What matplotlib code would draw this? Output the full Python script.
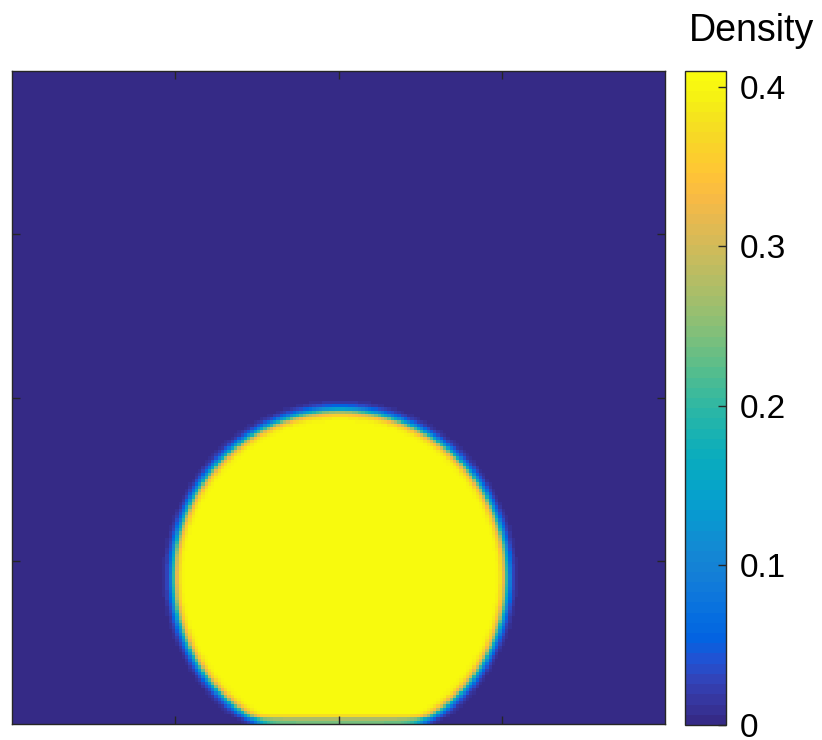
import numpy as np
import matplotlib

matplotlib.use('Agg')
import matplotlib.pyplot as plt
from matplotlib.colors import LinearSegmentedColormap

# grid and droplet parameters (grid units)
nx = 200
ny = 200
drop_center = [100.5, 45.0]
drop_radius = 51.0
interface_width = 1.6
rho_liquid = 0.41
rho_gas = 0.0
# density reduction of the rows next to the bottom wall
wall_factors = [0.58, 0.66, 0.92]

cbar_ticks = [0, 0.1, 0.2, 0.3, 0.4]
cbar_labels = ['0', '0.1', '0.2', '0.3', '0.4']

# parula (MATLAB) anchor colours
parula_colors = [
    (0.2081, 0.1663, 0.5292), (0.2123, 0.2138, 0.6270), (0.1959, 0.2645, 0.7279),
    (0.1253, 0.3242, 0.8303), (0.0117, 0.3875, 0.8820), (0.0165, 0.4266, 0.8786),
    (0.0498, 0.4586, 0.8641), (0.0723, 0.4887, 0.8467), (0.0793, 0.5200, 0.8312),
    (0.0641, 0.5570, 0.8240), (0.0343, 0.5966, 0.8199), (0.0239, 0.6287, 0.8038),
    (0.0228, 0.6535, 0.7768), (0.0384, 0.6743, 0.7436), (0.0843, 0.6928, 0.7062),
    (0.1453, 0.7098, 0.6646), (0.2178, 0.7250, 0.6193), (0.3022, 0.7376, 0.5712),
    (0.3953, 0.7459, 0.5244), (0.4871, 0.7491, 0.4840), (0.5709, 0.7485, 0.4494),
    (0.6473, 0.7456, 0.4188), (0.7184, 0.7411, 0.3905), (0.7858, 0.7356, 0.3633),
    (0.8507, 0.7299, 0.3360), (0.9139, 0.7258, 0.3063), (0.9739, 0.7314, 0.2666),
    (0.9990, 0.7653, 0.2164), (0.9880, 0.8066, 0.1794), (0.9697, 0.8481, 0.1475),
    (0.9589, 0.8949, 0.1132), (0.9661, 0.9514, 0.0755), (0.9763, 0.9831, 0.0538),
]
parula = LinearSegmentedColormap.from_list('parula', parula_colors, N=64)

plt.rcParams['font.family'] = ['Liberation Sans', 'DejaVu Sans']

# density field of the droplet (tanh interface profile)
x = np.arange(nx) + 0.5
y = np.arange(ny) + 0.5
X, Y = np.meshgrid(x, y)
r = np.sqrt((X - drop_center[0]) ** 2 + (Y - drop_center[1]) ** 2)
rho = rho_gas + 0.5 * (rho_liquid - rho_gas) * (1 - np.tanh((r - drop_radius) / interface_width))
for i, f in enumerate(wall_factors):
    rho[i, :] = rho[i, :] * f

fig = plt.figure(figsize=(8.22, 7.40), dpi=100)
ax = fig.add_axes([12 / 822, 16 / 740, 653 / 822, 653 / 740])
im = ax.imshow(rho, origin='lower', cmap=parula, vmin=rho_gas, vmax=rho_liquid,
               extent=[0, nx, 0, ny], interpolation='nearest', aspect='auto')
ax.set_xticks([50, 100, 150])
ax.set_yticks([50, 100, 150])
ax.set_xticklabels([])
ax.set_yticklabels([])
ax.tick_params(direction='in', length=6, width=1, color='#262626',
               top=True, right=True)
for s in ax.spines.values():
    s.set_color('#262626')
    s.set_linewidth(1)

cax = fig.add_axes([685 / 822, 15 / 740, 41 / 822, 654 / 740])
cb = fig.colorbar(im, cax=cax)
cb.set_ticks(cbar_ticks)
cb.set_ticklabels(cbar_labels)
cax.tick_params(direction='in', length=6, width=1, color='#262626',
                labelsize=24, pad=10)
cb.outline.set_edgecolor('#262626')
cb.outline.set_linewidth(1)
fig.text(751 / 822, 1 - 31 / 740, 'Density', fontsize=27, ha='center', va='center')

fig.savefig('out.png', dpi=100)
